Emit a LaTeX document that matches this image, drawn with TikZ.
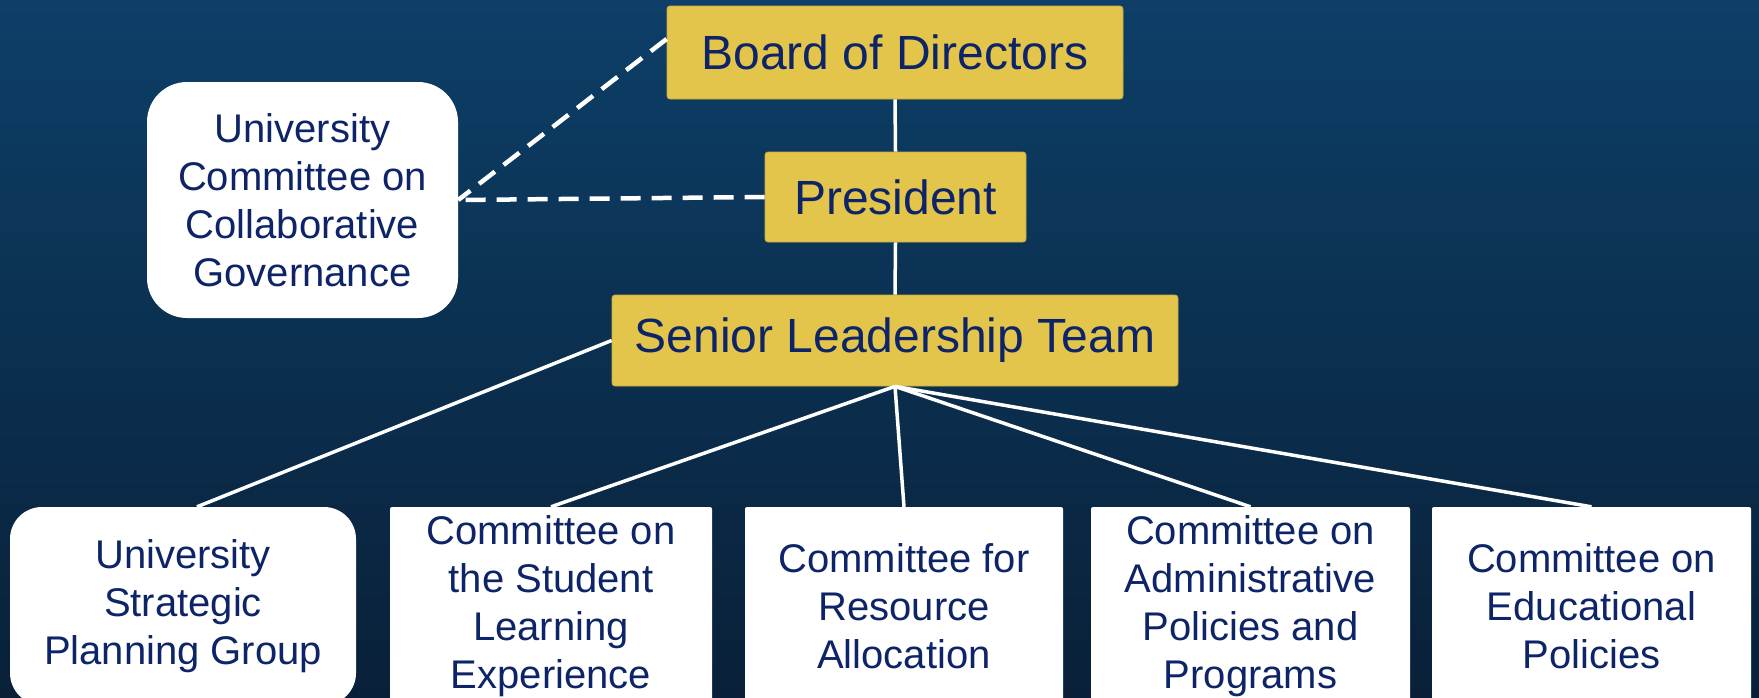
\documentclass[tikz,border=0pt]{standalone}
\usepackage{fontspec}
\setmainfont{Liberation Sans}
\definecolor{bgtop}{RGB}{13,63,104}
\definecolor{bgbot}{RGB}{9,32,56}
\definecolor{gold}{RGB}{226,197,74}
\definecolor{goldedge}{RGB}{200,172,60}
\definecolor{navytext}{RGB}{14,36,104}
\begin{document}
\begin{tikzpicture}[x=1pt,y=-1pt,
  goldbox/.style={fill=gold,draw=goldedge,line width=0.8pt,rounded corners=3pt,inner sep=0pt,
    text=navytext,font=\fontsize{48}{56}\selectfont},
  whitebox/.style={fill=white,draw=none,inner sep=0pt,text=navytext,align=center,
    font=\fontsize{40}{48}\selectfont,minimum height=198pt},
  link/.style={draw=white,line width=3.5pt},
  dlink/.style={draw=white,line width=4.5pt,dash pattern=on 20pt off 11pt}]
\useasboundingbox (0,0) rectangle (1759,697);
\clip (0,0) rectangle (1759,697);
\shade[top color=bgtop,bottom color=bgbot] (0,0) rectangle (1759,697);
% top chain
\node[goldbox,minimum width=456pt,minimum height=93pt] (board) at (895,52.5) {Board of Directors};
\node[goldbox,minimum width=261pt,minimum height=90pt] (pres) at (895.5,197) {President};
\node[goldbox,minimum width=566pt,minimum height=91pt] (slt) at (895,340.5) {\raisebox{-5pt}{Senior Leadership Team}};
\node[whitebox,rounded corners=40pt,minimum width=311pt,minimum height=236pt] (uccg) at (302.5,200)
  {University\\Committee on\\Collaborative\\Governance};
% bottom row
\node[whitebox,rounded corners=32pt,minimum width=346pt] (uspg) at (183,606) {University\\Strategic\\Planning Group};
\node[whitebox,rounded corners=2pt,minimum width=322pt] (csle) at (551,606) {Committee on\\the Student\\Learning\\Experience};
\node[whitebox,rounded corners=2pt,minimum width=318pt] (cra) at (904,606) {Committee for\\Resource\\Allocation};
\node[whitebox,rounded corners=2pt,minimum width=319pt] (capp) at (1250.5,606) {Committee on\\Administrative\\Policies and\\Programs};
\node[whitebox,rounded corners=2pt,minimum width=319pt] (cep) at (1591.5,606) {Committee on\\Educational\\Policies};
% connectors
\draw[link] (board.south) -- (pres.north);
\draw[link] (pres.south) -- (slt.north);
\draw[link] (slt.west) -- ([xshift=14pt]uspg.north);
\draw[link] (slt.south) -- (csle.north);
\draw[link] (slt.south) -- (cra.north);
\draw[link] (slt.south) -- (capp.north);
\draw[link] (slt.south) -- (cep.north);
\draw[dlink] (pres.west) -- (uccg.east);
\draw[dlink] ([yshift=13.5pt]board.west) -- (uccg.east);
\end{tikzpicture}
\end{document}
